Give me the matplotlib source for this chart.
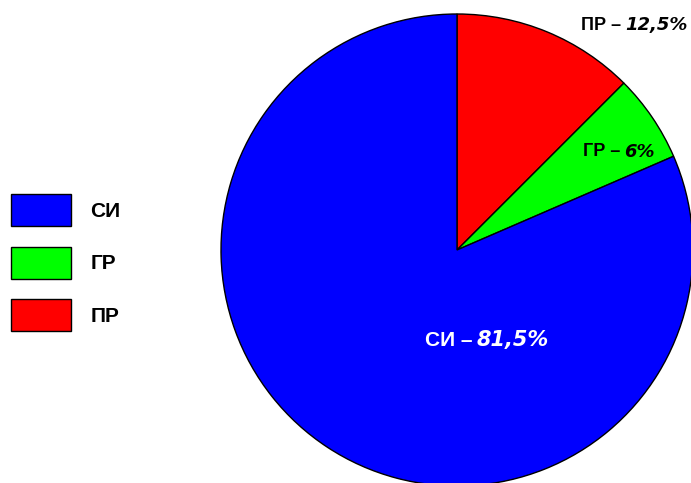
import matplotlib.pyplot as plt

labels = ["СИ", "ГР", "ПР"]
shares = [81.5, 6, 12.5]
share_text = ["81,5%", "6%", "12,5%"]
colors = ["#0000ff", "#00ff00", "#ff0000"]

plt.rcParams["font.family"] = ["Liberation Sans", "DejaVu Sans"]

fig = plt.figure(figsize=(6.91, 4.83), dpi=100)
ax = fig.add_axes([0, 0, 1, 1])

# pie drawn clockwise from the top: ПР, ГР, then СИ
order = [2, 1, 0]
wedges, _ = ax.pie(
    [shares[i] for i in order],
    colors=[colors[i] for i in order],
    startangle=90,
    counterclock=False,
    center=(457, 233),
    radius=236,
    frame=True,
    wedgeprops=dict(edgecolor="black", linewidth=1),
)
ax.set_xlim(0, 691)
ax.set_ylim(0, 483)
ax.set_aspect("equal")
ax.axis("off")

# slice labels: name part plain bold, value bold italic
label_pos = {"ПР": (621, 458, 13, "black"), "ГР": (620, 331, 13, "black"),
             "СИ": (473, 143, 15, "white")}
for name, val in zip(labels, share_text):
    x, y, fs, c = label_pos[name]
    ax.text(x, y, name + " –", ha="right", va="center", fontsize=fs,
            fontweight="bold", color=c)
    ax.text(x + 4, y, val, ha="left", va="center", fontsize=fs,
            fontweight="bold", fontstyle="italic", color=c,
            family=["DejaVu Sans"])

handles = [wedges[order.index(i)] for i in range(len(labels))]
leg = fig.legend(handles, labels, loc="upper left",
                 bbox_to_anchor=(11 / 691, 1 - 194 / 483),
                 frameon=False, prop=dict(size=15, weight="bold"),
                 borderpad=0, borderaxespad=0,
                 handlelength=2.9, handleheight=2.0, labelspacing=0.98,
                 handletextpad=0.9)

fig.savefig("out.png", dpi=100)
